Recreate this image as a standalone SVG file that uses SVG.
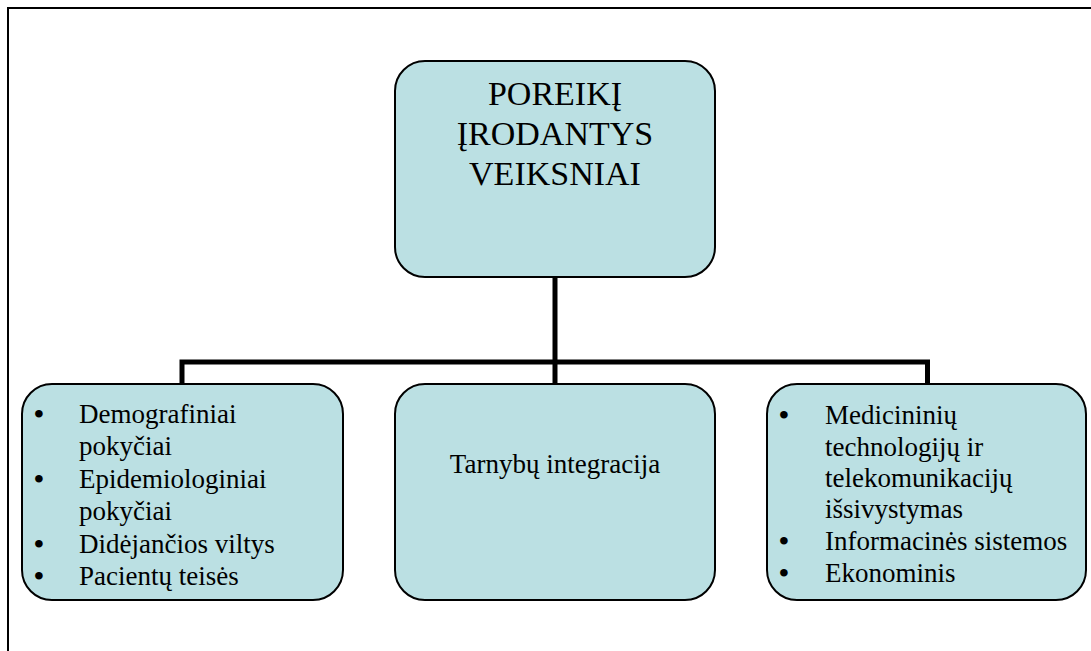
<svg xmlns="http://www.w3.org/2000/svg" width="1091" height="651" viewBox="0 0 1091 651">
<style>
.box{fill:#BBE0E3;stroke:#000;stroke-width:2}
.t{font-family:"Liberation Serif","Times New Roman",serif;fill:#000}
.title{font-size:34px}
.item{font-size:27px}
.bul{font-size:28px;font-weight:bold}
.conn{fill:none;stroke:#000;stroke-width:5}
.frame{fill:none;stroke:#000;stroke-width:2}
</style>
<rect width="1091" height="651" fill="#fff"/>
<g id="frame"><path class="frame" d="M8,651 V8 H1091"/></g>
<g id="connectors">
<path class="conn" d="M555,277 V362"/>
<path class="conn" d="M182,384 V362 H927.5 V384"/>
<path class="conn" d="M555,362 V384"/>
</g>
<g id="node-top">
<rect class="box" x="395" y="61" width="320" height="216" rx="30" ry="30"/>
<text class="t title" text-anchor="middle" x="555" y="105">POREIKĮ</text>
<text class="t title" text-anchor="middle" x="555" y="145">ĮRODANTYS</text>
<text class="t title" text-anchor="middle" x="555" y="185">VEIKSNIAI</text>
</g>
<g id="node-left">
<rect class="box" x="22" y="384" width="321" height="216" rx="30" ry="30"/>
<text class="t bul" x="34" y="423">•</text>
<text class="t item" x="79" y="423">Demografiniai</text>
<text class="t item" x="79" y="455">pokyčiai</text>
<text class="t bul" x="34" y="488">•</text>
<text class="t item" x="79" y="488">Epidemiologiniai</text>
<text class="t item" x="79" y="520">pokyčiai</text>
<text class="t bul" x="34" y="553">•</text>
<text class="t item" x="79" y="553">Didėjančios viltys</text>
<text class="t bul" x="34" y="585">•</text>
<text class="t item" x="79" y="585">Pacientų teisės</text>
</g>
<g id="node-middle">
<rect class="box" x="395" y="384" width="320" height="216" rx="30" ry="30"/>
<text class="t item" text-anchor="middle" x="555" y="473">Tarnybų integracija</text>
</g>
<g id="node-right">
<rect class="box" x="767" y="384" width="319" height="216" rx="30" ry="30"/>
<text class="t bul" x="779" y="424">•</text>
<text class="t item" x="825" y="424">Medicininių</text>
<text class="t item" x="825" y="456">technologijų ir</text>
<text class="t item" x="825" y="487">telekomunikacijų</text>
<text class="t item" x="825" y="518">išsivystymas</text>
<text class="t bul" x="779" y="550">•</text>
<text class="t item" x="825" y="550">Informacinės sistemos</text>
<text class="t bul" x="779" y="582">•</text>
<text class="t item" x="825" y="582">Ekonominis</text>
</g>
</svg>
